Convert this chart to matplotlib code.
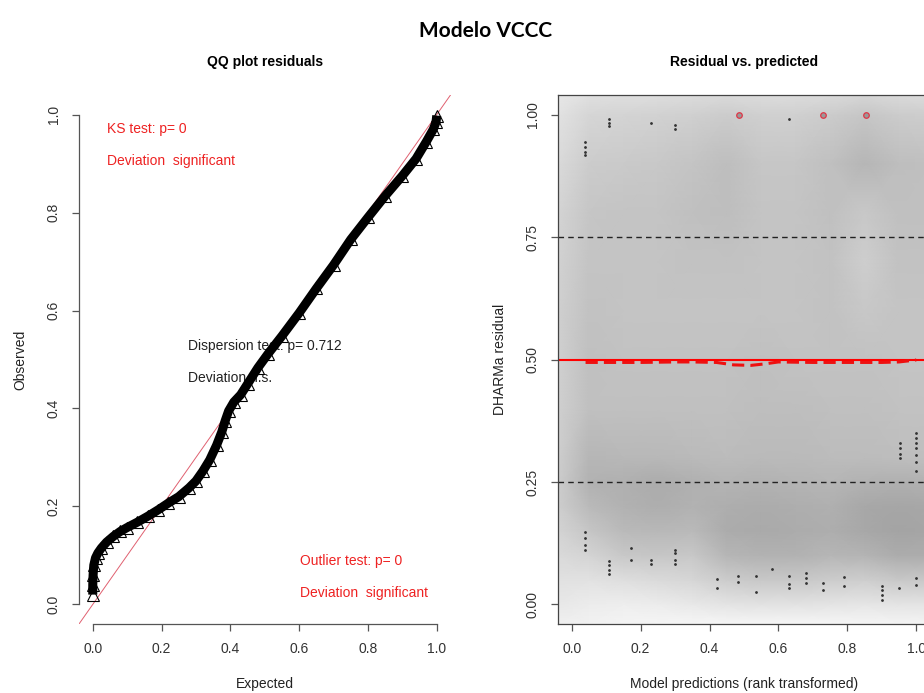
import numpy as np
import matplotlib.pyplot as plt

plt.rcParams['font.family'] = ['Liberation Sans', 'DejaVu Sans']

# QQ plot of scaled residuals: expected vs observed quantiles
qq_expected = [0.000, 0.000, 0.001, 0.003, 0.008, 0.015, 0.025, 0.040, 0.060, 0.080,
               0.100, 0.130, 0.160, 0.190, 0.220, 0.250, 0.280, 0.300, 0.320, 0.340,
               0.360, 0.375, 0.385, 0.395, 0.410, 0.430, 0.450, 0.480, 0.510, 0.550,
               0.600, 0.650, 0.700, 0.750, 0.800, 0.850, 0.900, 0.940, 0.970, 0.990,
               0.998, 1.000]
qq_observed = [0.020, 0.040, 0.060, 0.080, 0.095, 0.105, 0.115, 0.127, 0.139, 0.149,
               0.157, 0.168, 0.180, 0.193, 0.207, 0.220, 0.238, 0.252, 0.272, 0.295,
               0.325, 0.352, 0.375, 0.395, 0.413, 0.428, 0.450, 0.483, 0.512, 0.548,
               0.595, 0.645, 0.693, 0.745, 0.790, 0.834, 0.875, 0.910, 0.945, 0.970,
               0.985, 0.998]

ks_p = 0
dispersion_p = 0.712
outlier_p = 0

# residuals vs rank-transformed predictions (the few points drawn over the density)
res_x = [0.038, 0.038, 0.038, 0.038, 0.108, 0.108, 0.108, 0.230, 0.301, 0.301, 0.632,
         0.953, 0.953, 0.953, 0.953,
         0.999, 0.999, 0.999, 0.999, 0.999, 0.999, 0.999,
         0.038, 0.038, 0.038, 0.038, 0.108, 0.108, 0.108, 0.108, 0.171, 0.171,
         0.230, 0.230, 0.299, 0.299, 0.299, 0.299, 0.423, 0.423, 0.483, 0.483,
         0.534, 0.534, 0.582, 0.632, 0.632, 0.632, 0.679, 0.679, 0.679, 0.730, 0.730,
         0.791, 0.791, 0.901, 0.901, 0.901, 0.901, 0.951, 0.999, 0.999]
res_y = [0.944, 0.934, 0.924, 0.918, 0.990, 0.983, 0.977, 0.983, 0.979, 0.971, 0.991,
         0.329, 0.319, 0.308, 0.298,
         0.350, 0.340, 0.329, 0.319, 0.305, 0.291, 0.273,
         0.148, 0.135, 0.122, 0.111, 0.089, 0.080, 0.071, 0.063, 0.116, 0.090,
         0.090, 0.082, 0.111, 0.104, 0.090, 0.082, 0.051, 0.033, 0.058, 0.046,
         0.058, 0.026, 0.073, 0.058, 0.041, 0.033, 0.064, 0.053, 0.043, 0.043, 0.029,
         0.056, 0.037, 0.037, 0.029, 0.019, 0.010, 0.033, 0.053, 0.039]
outlier_x = [0.486, 0.729, 0.854]
outlier_y = [1.0, 1.0, 1.0]

# quantile regression of residuals (median)
quant_x = [0.04, 0.10, 0.20, 0.30, 0.35, 0.42, 0.47, 0.52, 0.56, 0.60, 0.70, 0.80, 0.90, 0.95, 1.00]
quant_y = [0.494, 0.494, 0.494, 0.495, 0.495, 0.494, 0.489, 0.488, 0.491, 0.495, 0.494,
           0.494, 0.494, 0.495, 0.499]

# smoothed point density (grey level 0-255) on a coarse grid
dens_x = [-0.04, 0.05, 0.15, 0.25, 0.35, 0.45, 0.55, 0.65, 0.75, 0.85, 0.95, 1.04]
dens_y = [-0.04, 0.00, 0.05, 0.10, 0.15, 0.20, 0.25, 0.30, 0.40, 0.50, 0.60, 0.70,
          0.80, 0.90, 1.00, 1.04]
dens_grey = [
    [240, 242, 244, 245, 246, 246, 246, 246, 246, 245, 244, 244],
    [232, 236, 238, 236, 232, 228, 226, 226, 228, 230, 228, 228],
    [225, 226, 222, 218, 214, 204, 200, 200, 204, 206, 200, 200],
    [218, 212, 200, 198, 200, 182, 178, 178, 182, 180, 172, 172],
    [212, 198, 186, 184, 186, 172, 170, 172, 174, 168, 164, 166],
    [206, 186, 178, 174, 178, 174, 172, 174, 176, 168, 166, 168],
    [204, 178, 176, 172, 176, 180, 178, 180, 182, 178, 176, 178],
    [206, 182, 184, 184, 186, 188, 186, 186, 188, 188, 190, 190],
    [208, 192, 192, 192, 192, 192, 190, 190, 192, 192, 194, 194],
    [208, 192, 194, 194, 194, 194, 192, 194, 194, 194, 196, 196],
    [208, 194, 196, 196, 196, 196, 196, 196, 194, 200, 196, 196],
    [210, 196, 196, 196, 194, 194, 196, 196, 194, 206, 194, 194],
    [212, 198, 196, 196, 192, 190, 196, 196, 192, 200, 192, 192],
    [218, 204, 202, 200, 196, 190, 198, 198, 192, 182, 190, 192],
    [226, 214, 212, 210, 208, 204, 208, 208, 204, 198, 204, 206],
    [232, 224, 222, 222, 220, 218, 220, 220, 218, 214, 218, 220],
]

W, H = 924, 693
fig = plt.figure(figsize=(W / 100, H / 100), dpi=100)
ax1 = fig.add_axes([79 / W, 1 - 624 / H, 371.5 / W, 529 / H])
ax2 = fig.add_axes([558 / W, 1 - 624 / H, 372 / W, 529 / H])

axis_col = '#555555'
red = '#ee2222'

# ---- left: QQ plot ----
ax1.set_xlim(-0.04, 1.04)
ax1.set_ylim(-0.04, 1.04)
ax1.axline((0, 0), slope=1, color='#e06070', lw=0.7, zorder=1)
ax1.plot(qq_expected, qq_observed, color='black', lw=6.5, zorder=3,
         solid_capstyle='butt', solid_joinstyle='round')
ax1.plot(qq_expected, qq_observed, ls='none', marker='^', ms=8, mfc='none',
         mec='black', mew=0.8, zorder=3)

for s in ['top', 'right']:
    ax1.spines[s].set_visible(False)
for s in ['left', 'bottom']:
    ax1.spines[s].set_bounds(0, 1)
    ax1.spines[s].set_color(axis_col)
    ax1.spines[s].set_linewidth(0.9)
ax1.set_xticks(np.arange(0, 1.01, 0.2))
ax1.set_yticks(np.arange(0, 1.01, 0.2))
ax1.set_xticklabels([f'{v:.1f}' for v in np.arange(0, 1.01, 0.2)])
ax1.set_yticklabels([f'{v:.1f}' for v in np.arange(0, 1.01, 0.2)])

ax1.text(0.042, 0.97, f'KS test: p= {ks_p}', color=red, fontsize=10, va='center', zorder=2)
ax1.text(0.042, 0.905, 'Deviation  significant', color=red, fontsize=10, va='center', zorder=2)
ax1.text(0.277, 0.527, f'Dispersion test: p= {dispersion_p}', color='#222222',
         fontsize=10, va='center', zorder=2)
ax1.text(0.277, 0.462, 'Deviation n.s.', color='#222222', fontsize=10, va='center', zorder=2)
ax1.text(0.603, 0.089, f'Outlier test: p= {outlier_p}', color=red, fontsize=10, va='center', zorder=2)
ax1.text(0.603, 0.023, 'Deviation  significant', color=red, fontsize=10, va='center', zorder=2)

ax1.set_title('QQ plot residuals', fontsize=10, fontweight='bold', pad=21)
ax1.set_xlabel('Expected', fontsize=10, color='#222222')
ax1.set_ylabel('Observed', fontsize=10, color='#222222')

# ---- right: residual vs predicted ----
ax2.set_xlim(-0.04, 1.04)
ax2.set_ylim(-0.04, 1.04)
ax2.pcolormesh(dens_x, dens_y, np.array(dens_grey), shading='gouraud', cmap='gray',
               vmin=0, vmax=255, zorder=0, rasterized=True)
ax2.axhline(0.25, color='#222222', ls=(0, (4, 3)), lw=1, zorder=1)
ax2.axhline(0.75, color='#222222', ls=(0, (4, 3)), lw=1, zorder=1)
ax2.axhline(0.5, color='red', lw=1.5, zorder=2)
ax2.plot(quant_x, quant_y, color='#ee1111', ls=(0, (4, 2)), lw=2.2, zorder=3)
ax2.plot(res_x, res_y, ls='none', marker='o', ms=1.0, color='#333333', zorder=4)
ax2.plot(outlier_x, outlier_y, ls='none', marker='o', ms=4, mfc='#999999',
         mec='#e03545', mew=0.9, zorder=4)

for s in ax2.spines.values():
    s.set_color('#444444')
    s.set_linewidth(0.9)
ax2.set_xticks(np.arange(0, 1.01, 0.2))
ax2.set_xticklabels([f'{v:.1f}' for v in np.arange(0, 1.01, 0.2)])
ax2.set_yticks([0, 0.25, 0.5, 0.75, 1.0])
ax2.set_yticklabels(['0.00', '0.25', '0.50', '0.75', '1.00'])

ax2.set_title('Residual vs. predicted', fontsize=10, fontweight='bold', pad=21)
ax2.set_xlabel('Model predictions (rank transformed)', fontsize=10, color='#222222')
ax2.set_ylabel('DHARMa residual', fontsize=10, color='#222222')

for ax in (ax1, ax2):
    ax.tick_params(direction='out', length=5, width=0.9, color=axis_col,
                   labelsize=10, labelcolor='#333333')
    ax.tick_params(axis='x', pad=8)
    ax.tick_params(axis='y', pad=8, labelrotation=90)
    for lab in ax.get_yticklabels():
        lab.set_va('center')
    ax.xaxis.set_label_coords(0.5, -0.1)
    ax.yaxis.set_label_coords(-0.138, 0.5)

fig.text(486 / W, 1 - 31 / H, 'Modelo VCCC', ha='center', va='center',
         fontsize=15, fontweight='bold', family=['Lato', 'DejaVu Sans'])

fig.savefig('out.png', dpi=100)
